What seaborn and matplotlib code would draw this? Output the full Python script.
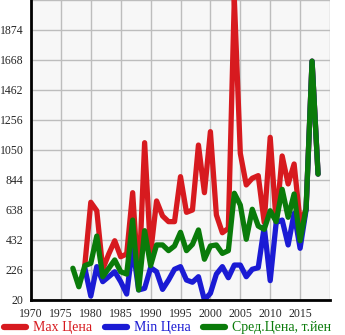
import numpy as np
import pandas as pd
import matplotlib
matplotlib.use("Agg")
import matplotlib.pyplot as plt
import seaborn as sns
from matplotlib.lines import Line2D

years = list(range(1977, 2019))
nan = np.nan
max_price = [nan, nan, 260, 691, 633, 231, 336, 427, 317, 336, 757, 120, 1100, 342,
             700, 597, 558, 558, 867, 622, 638, 1084, 757, 1176, 604, 482, 512, 2090,
             1027, 810, 856, 874, 552, 1137, 552, 1009, 817, 954, 558, 638, 1660, 885]
min_price = [nan, nan, 240, 47, 249, 146, 180, 214, 146, 61, 386, 89, 100, 242,
             214, 93, 157, 231, 249, 157, 142, 180, 20, 66, 198, 249, 173, 260,
             260, 180, 231, 242, 523, 153, 552, 569, 398, 615, 375, 638, 1660, 885]
avg_price = [238, 111, 256, 272, 459, 180, 238, 295, 214, 198, 569, 89, 496, 256,
             398, 398, 359, 391, 485, 359, 402, 501, 300, 391, 398, 340, 359, 753,
             672, 437, 643, 528, 505, 633, 558, 780, 588, 748, 427, 650, 1660, 885]

labels = ["Max Цена", "Min Цена", "Сред.Цена, т.йен"]
colors = ["#d71a1f", "#1b1bd4", "#0a7b0a"]
y_ticks = [20, 226, 432, 638, 844, 1050, 1256, 1462, 1668, 1874, 2080]
x_ticks = list(range(1970, 2021, 5))

df = pd.DataFrame({"year": years, labels[0]: max_price,
                   labels[1]: min_price, labels[2]: avg_price})
long = df.melt(id_vars="year", var_name="series", value_name="value").dropna()

sns.set_style("white")
plt.rcParams["font.family"] = ["Liberation Serif", "DejaVu Serif"]

fig = plt.figure(figsize=(3.45, 3.35), dpi=100)
ax = fig.add_axes([31/345, 35/335, 299/345, 300/335])
ax.set_facecolor("#f7f7f7")

sns.lineplot(data=long, x="year", y="value", hue="series", hue_order=labels,
             palette=colors, linewidth=3.8, ax=ax, legend=False,
             solid_joinstyle="round", solid_capstyle="round")

ax.set_xlim(1970, 2020)
ax.set_ylim(20, 2080)
ax.set_xticks(x_ticks)
ax.set_xticklabels([str(x) if x < 2020 else "" for x in x_ticks])
ax.set_yticks(y_ticks)
ax.set_yticklabels([str(y) if y < 2080 else "" for y in y_ticks])
ax.grid(True, color="#bdbdbd", linewidth=1.0)
ax.set_axisbelow(True)
ax.set_xlabel("")
ax.set_ylabel("")
for s in ["top", "right"]:
    ax.spines[s].set_visible(False)
for s in ["left", "bottom"]:
    ax.spines[s].set_color("black")
    ax.spines[s].set_linewidth(2)
ax.tick_params(axis="both", direction="out", length=4, width=1, color="black",
               labelsize=8.5, pad=1.5)

handles = [Line2D([], [], color=c, linewidth=4.5, solid_capstyle="round") for c in colors]
leg = fig.legend(handles, labels, loc="lower left", bbox_to_anchor=(-0.005, -0.015),
                 ncol=3, frameon=False, fontsize=10, handlelength=1.6,
                 columnspacing=0.9, handletextpad=0.5, labelcolor=colors,
                 borderaxespad=0)

fig.savefig("out.png", dpi=100)
